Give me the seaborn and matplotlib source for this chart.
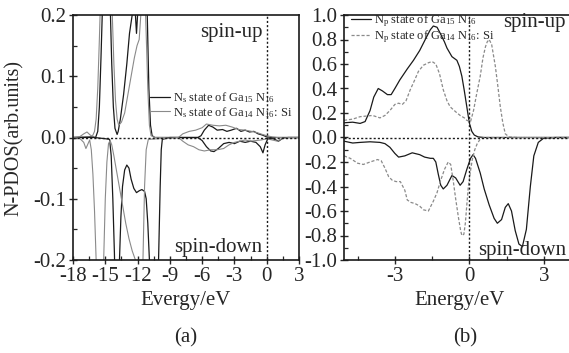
import numpy as np
import pandas as pd
import matplotlib
matplotlib.use("Agg")
import matplotlib.pyplot as plt
from matplotlib.ticker import MultipleLocator, FormatStrFormatter
import seaborn as sns

# ---------------- data: panel (a)  N s-states ----------------
a_solid_up_x = [-18, -16.2, -15.9, -15.7, -15.55, -15.4, -15.25, -15.1, -14.9, -14.7, -14.55, -14.4, -14.25,
                -14.1, -13.9, -13.8, -13.6, -13.3, -13.0, -12.75, -12.5, -12.35, -12.2, -12.1, -12.0, -11.85,
                -11.5, -11.25, -11.1, -10.95, -10.8, -10.65, -10.4, -6.4, -6.1, -5.8, -5.4, -5.0, -4.6, -4.1,
                -3.7, -3.3, -2.8, -2.4, -2.0, -1.6, -1.2, -0.8, -0.4, 0.0, 0.5, 3.0]
a_solid_up_y = [0.0, 0.001, 0.0, 0.01, 0.05, 0.13, 0.22, 0.4, 0.6, 0.4, 0.22, 0.12, 0.05,
                0.015, 0.005, 0.01, 0.03, 0.07, 0.12, 0.17, 0.2, 0.26, 0.2, 0.17, 0.2, 0.3,
                0.4, 0.25, 0.2, 0.08, 0.02, 0.003, 0.0, 0.0, 0.003, 0.012, 0.02, 0.017, 0.012, 0.013,
                0.01, 0.012, 0.015, 0.01, 0.012, 0.009, 0.01, 0.006, 0.004, 0.001, 0.0, 0.0]

a_solid_dn_x = [-18, -16.0, -15.0, -14.6, -14.45, -14.3, -14.15, -14.0, -13.85, -13.7, -13.55, -13.4, -13.2,
                -13.0, -12.8, -12.6, -12.35, -12.1, -11.85, -11.6, -11.35, -11.2, -11.05, -10.9, -10.6, -10.25,
                -10.05, -9.9, -9.8, -9.7, -9.0, -6.4, -6.0, -5.6, -5.2, -4.9, -4.5, -4.0, -3.5, -3.0, -2.5,
                -2.0, -1.5, -1.0, -0.6, -0.35, -0.15, 0.1, 0.6, 1.1, 1.5, 2.0, 3.0]
a_solid_dn_y = [0.0, 0.0, -0.002, -0.003, -0.03, -0.1, -0.19, -0.32, -0.32, -0.21, -0.13, -0.08, -0.053,
                -0.045, -0.05, -0.068, -0.083, -0.09, -0.087, -0.085, -0.088, -0.1, -0.14, -0.2, -0.35, -0.35,
                -0.2, -0.08, -0.02, -0.003, 0.0, 0.0, -0.005, -0.015, -0.022, -0.023, -0.018, -0.01, -0.008, -0.01, -0.006,
                -0.008, -0.006, -0.008, -0.015, -0.025, -0.012, -0.002, -0.002, -0.006, -0.001, 0.0, 0.0]

a_si_up_x = [-18, -17.4, -17.0, -16.7, -16.4, -16.2, -16.0, -15.85, -15.7, -15.55, -15.4, -15.1, -14.8, -14.5,
             -14.35, -14.2, -14.05, -13.9, -13.75, -13.5, -13.2, -12.9, -12.6, -12.3, -12.05, -11.85, -11.7,
             -11.5, -11.35, -11.2, -11.05, -10.9, -10.75, -10.4, -8.2, -7.8, -7.2, -6.6, -6.0, -5.6, -5.0,
             -4.4, -3.8, -3.2, -2.6, -2.0, -1.4, -0.9, -0.4, 0.0, 0.5, 1.0, 3.0]
a_si_up_y = [0.0, 0.001, 0.006, 0.009, 0.004, 0.002, 0.01, 0.03, 0.08, 0.16, 0.25, 0.5, 0.5, 0.28,
             0.2, 0.12, 0.06, 0.03, 0.02, 0.025, 0.04, 0.07, 0.1, 0.13, 0.15, 0.16, 0.2,
             0.3, 0.25, 0.17, 0.08, 0.02, 0.003, 0.0, 0.0, 0.006, 0.01, 0.012, 0.016, 0.022, 0.02,
             0.019, 0.02, 0.017, 0.013, 0.012, 0.01, 0.008, 0.005, 0.003, 0.001, 0.0, 0.0]

a_si_dn_x = [-18, -17.4, -17.0, -16.8, -16.6, -16.45, -16.3, -16.15, -16.0, -15.85, -15.6, -15.35, -15.15,
             -15.0, -14.85, -14.7, -14.55, -14.4, -14.2, -14.0, -13.7, -13.4, -13.1, -12.8, -12.5, -12.2,
             -11.85, -11.5, -11.35, -11.2, -11.0, -8.2, -7.8, -7.3, -6.8, -6.3, -5.8, -5.2, -4.6, -4.0,
             -3.5, -3.0, -2.5, -2.0, -1.5, -1.0, -0.5, 0.0, 0.5, 1.0, 1.4, 2.0, 3.0]
a_si_dn_y = [0.0, -0.001, -0.008, -0.018, -0.01, -0.004, -0.02, -0.06, -0.12, -0.2, -0.4, -0.4, -0.2,
             -0.1, -0.04, -0.01, -0.005, -0.012, -0.03, -0.05, -0.08, -0.11, -0.14, -0.165, -0.185, -0.2,
             -0.35, -0.2, -0.08, -0.02, -0.003, 0.0, -0.006, -0.012, -0.015, -0.02, -0.022, -0.02, -0.02, -0.018,
             -0.012, -0.008, -0.006, -0.004, -0.006, -0.005, -0.004, -0.002, -0.004, -0.006, -0.002, 0.0, 0.0]

# ---------------- data: panel (b)  N p-states ----------------
b_solid_up_x = [-5.05, -4.7, -4.4, -4.2, -4.0, -3.85, -3.67, -3.5, -3.3, -3.15, -3.0, -2.8, -2.5, -2.25,
                -2.0, -1.85, -1.7, -1.57, -1.45, -1.3, -1.17, -1.0, -0.9, -0.7, -0.5, -0.4, -0.3, -0.2,
                -0.1, 0.0, 0.1, 0.2, 0.35, 0.6, 1.0, 2.0, 3.0, 4.3]
b_solid_up_y = [0.12, 0.125, 0.115, 0.13, 0.22, 0.33, 0.40, 0.38, 0.35, 0.35, 0.40, 0.47, 0.56, 0.63,
                0.71, 0.77, 0.83, 0.88, 0.91, 0.90, 0.85, 0.78, 0.73, 0.66, 0.63, 0.58, 0.50, 0.38,
                0.25, 0.12, 0.05, 0.02, 0.005, 0.0, 0.0, 0.0, 0.0, 0.0]

b_solid_dn_x = [-5.05, -4.7, -4.4, -4.0, -3.6, -3.4, -3.2, -3.0, -2.85, -2.6, -2.3, -2.0, -1.8, -1.57,
                -1.45, -1.35, -1.25, -1.15, -1.05, -0.9, -0.7, -0.55, -0.37, -0.25, -0.1, 0.05, 0.15, 0.25,
                0.44, 0.6, 0.8, 1.0, 1.13, 1.3, 1.45, 1.57, 1.7, 1.85, 2.0, 2.14, 2.3, 2.46, 2.6, 2.78,
                3.0, 3.5, 4.3]
b_solid_dn_y = [-0.03, -0.045, -0.04, -0.035, -0.04, -0.05, -0.08, -0.13, -0.16, -0.15, -0.125, -0.14, -0.16, -0.17,
                -0.17, -0.2, -0.3, -0.39, -0.42, -0.39, -0.31, -0.33, -0.39, -0.36, -0.26, -0.17, -0.14, -0.17,
                -0.29, -0.42, -0.55, -0.66, -0.70, -0.67, -0.57, -0.54, -0.6, -0.76, -0.87, -0.89, -0.75, -0.40, -0.15, -0.04,
                -0.005, 0.0, 0.0]

b_si_up_x = [-5.05, -4.7, -4.4, -4.15, -3.9, -3.75, -3.6, -3.4, -3.2, -3.0, -2.85, -2.7, -2.55, -2.38,
             -2.2, -2.05, -1.85, -1.65, -1.5, -1.35, -1.2, -1.05, -0.9, -0.77, -0.55, -0.37, -0.2, -0.1,
             0.05, 0.17, 0.3, 0.44, 0.55, 0.65, 0.72, 0.8, 0.9, 1.05, 1.15, 1.25, 1.35, 1.45, 1.6, 2.0, 4.3]
b_si_up_y = [0.14, 0.15, 0.17, 0.175, 0.18, 0.17, 0.16, 0.18, 0.22, 0.27, 0.28, 0.27, 0.30, 0.39,
             0.47, 0.54, 0.59, 0.61, 0.62, 0.6, 0.52, 0.39, 0.3, 0.25, 0.21, 0.18, 0.16, 0.14,
             0.13, 0.22, 0.36, 0.5, 0.65, 0.74, 0.78, 0.80, 0.76, 0.58, 0.42, 0.25, 0.12, 0.03, 0.005, 0.0, 0.0]

b_si_dn_x = [-5.05, -4.8, -4.5, -4.27, -4.0, -3.7, -3.55, -3.4, -3.25, -3.1, -2.95, -2.78, -2.6, -2.5,
             -2.35, -2.18, -2.0, -1.85, -1.65, -1.45, -1.3, -1.17, -1.0, -0.85, -0.75, -0.65, -0.55, -0.44,
             -0.35, -0.3, -0.22, -0.16, -0.1, -0.04, 0.05, 0.12, 0.22, 0.32, 0.45, 0.6, 1.0, 4.3]
b_si_dn_y = [-0.15, -0.17, -0.21, -0.22, -0.2, -0.18, -0.19, -0.25, -0.32, -0.35, -0.36, -0.36, -0.43, -0.51,
             -0.53, -0.54, -0.56, -0.59, -0.6, -0.52, -0.45, -0.36, -0.26, -0.2, -0.22, -0.35, -0.5, -0.65,
             -0.76, -0.8, -0.79, -0.7, -0.55, -0.40, -0.27, -0.18, -0.1, -0.05, -0.01, 0.0, 0.0, 0.0]

a_labels = [r"N$_\mathrm{s}$ state of Ga$_{15}$ N$_{16}$", r"N$_\mathrm{s}$ state of Ga$_{14}$ N$_{16}$: Si"]
b_labels = [r"N$_\mathrm{p}$ state of Ga$_{15}$ N$_{16}$", r"N$_\mathrm{p}$ state of Ga$_{14}$ N$_{16}$: Si"]

# ---------------- style ----------------
sns.set_style("ticks")
plt.rcParams["font.family"] = ["Liberation Serif", "DejaVu Serif"]
plt.rcParams["mathtext.fontset"] = "custom"
plt.rcParams["mathtext.rm"] = "Liberation Serif"
plt.rcParams["mathtext.it"] = "Liberation Serif:italic"
plt.rcParams["axes.unicode_minus"] = False
plt.rcParams["axes.linewidth"] = 1.2

FS = 15
BLACK = "#1a1a1a"
GREY = "#8a8a8a"
W, H = 569, 353
fig = plt.figure(figsize=(W / 100, H / 100), dpi=100)

def px_axes(l, t, r, b):
    return fig.add_axes([l / W, 1 - b / H, (r - l) / W, (b - t) / H])

axa = px_axes(73, 15, 299, 260)
axb = px_axes(344, 15, 576, 260)

def draw(ax, x, y, color, lw, ls, label):
    sns.lineplot(x=x, y=y, ax=ax, color=color, lw=lw, linestyle=ls, sort=False,
                 estimator=None, label=label)

# panel (a)
draw(axa, a_solid_up_x, a_solid_up_y, BLACK, 0.9, "-", a_labels[0])
draw(axa, a_si_up_x, a_si_up_y, GREY, 0.8, "-", a_labels[1])
draw(axa, a_solid_dn_x, a_solid_dn_y, BLACK, 0.9, "-", None)
draw(axa, a_si_dn_x, a_si_dn_y, GREY, 0.8, "-", None)

# panel (b)
draw(axb, b_solid_up_x, b_solid_up_y, BLACK, 0.9, "-", b_labels[0])
draw(axb, b_si_up_x, b_si_up_y, GREY, 0.9, (0, (2.5, 1.5)), b_labels[1])
draw(axb, b_solid_dn_x, b_solid_dn_y, BLACK, 0.9, "-", None)
draw(axb, b_si_dn_x, b_si_dn_y, GREY, 0.9, (0, (2.5, 1.5)), None)

for ax in (axa, axb):
    ax.axhline(0, color=BLACK, lw=1.0, ls=(0, (1.5, 1.5)), zorder=5)
    ax.axvline(0, color=BLACK, lw=1.0, ls=(0, (1.5, 1.5)), zorder=5)
    ax.tick_params(which="major", direction="inout", length=6, width=1.0, labelsize=FS, pad=2)
    ax.tick_params(which="minor", direction="in", length=3, width=0.9)
    for s in ax.spines.values():
        s.set_linewidth(1.2)
        s.set_color(BLACK)

axa.set_xlim(-18, 3)
axa.set_ylim(-0.2, 0.2)
axa.xaxis.set_major_locator(MultipleLocator(3))
axa.xaxis.set_minor_locator(MultipleLocator(1.5))
axa.yaxis.set_major_locator(MultipleLocator(0.1))
axa.yaxis.set_minor_locator(MultipleLocator(0.05))
axa.yaxis.set_major_formatter(FormatStrFormatter("%.1f"))
axa.set_xlabel("Evergy/eV", fontsize=FS, labelpad=4)
axa.set_ylabel("N-PDOS(arb.units)", fontsize=14.5)
axa.yaxis.set_label_coords(-0.215, 0.5)

axb.set_xlim(-5.05, 4.3)
axb.set_ylim(-1.0, 1.0)
axb.set_xticks([-3, 0, 3])
axb.xaxis.set_minor_locator(MultipleLocator(1.5))
axb.yaxis.set_major_locator(MultipleLocator(0.2))
axb.yaxis.set_minor_locator(MultipleLocator(0.1))
axb.yaxis.set_major_formatter(FormatStrFormatter("%.1f"))
axb.set_xlabel("Energy/eV", fontsize=FS, labelpad=4)
axb.set_ylabel("")
axb.spines["right"].set_visible(False)

axa.text(-0.4, 0.171, "spin-up", ha="right", va="center", fontsize=FS)
axa.text(-0.4, -0.179, "spin-down", ha="right", va="center", fontsize=FS)
axb.text(3.9, 0.935, "spin-up", ha="right", va="center", fontsize=FS)
axb.text(3.9, -0.92, "spin-down", ha="right", va="center", fontsize=FS)

leg_kw = dict(frameon=False, fontsize=9, handlelength=1.6, handletextpad=0.25,
              borderpad=0, borderaxespad=0, loc="upper left", labelspacing=0.0)
axa.legend(bbox_to_anchor=((150 - 73) / 226, (260 - 90) / 245), **leg_kw)
axb.legend(bbox_to_anchor=((351 - 344) / 232, (260 - 12) / 245), **leg_kw)

fig.text(186 / W, 1 - 338 / H, "(a)", ha="center", va="center", fontsize=FS)
fig.text(465 / W, 1 - 338 / H, "(b)", ha="center", va="center", fontsize=FS)

fig.savefig("out.png", dpi=100)
